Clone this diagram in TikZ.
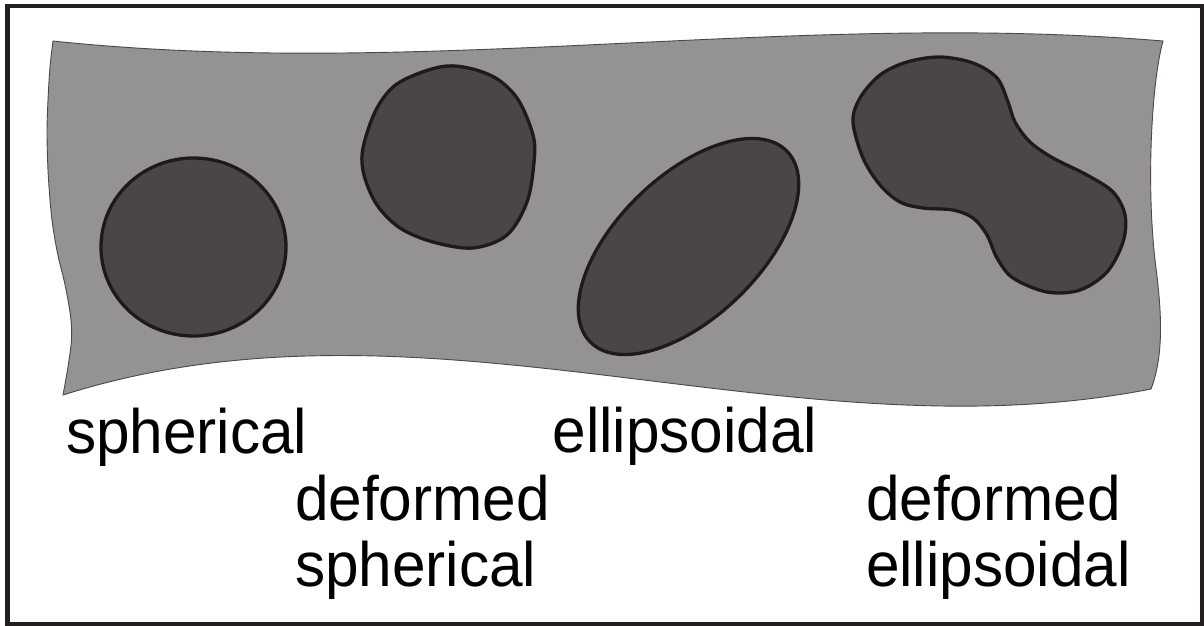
\documentclass[tikz,border=0pt]{standalone}
\usepackage{graphicx}
\usepackage{fontspec}
\setmainfont{Liberation Sans}
\definecolor{bandgrey}{RGB}{148,147,146}
\definecolor{blobgrey}{RGB}{74,70,69}
\definecolor{edgeblack}{RGB}{30,26,25}
\definecolor{framecol}{RGB}{35,31,32}
\newcommand{\tallt}[1]{\scalebox{1}[1.04]{#1}}
\tikzset{
  band/.style={fill=bandgrey, draw=edgeblack!80, line width=0.9pt},
  blob/.style={fill=blobgrey, draw=edgeblack, line width=3.3pt},
  lbl/.style={anchor=base west, inner sep=0pt, outer sep=0pt, font=\fontsize{60.3}{66}\selectfont, text=black},
}
\begin{document}
\begin{tikzpicture}[x=1pt, y=-1pt]
\useasboundingbox (0,0) rectangle (1204,625);
\fill[white] (0,0) rectangle (1204,625);
% frame
\draw[framecol, line width=4.5pt] (7.5,6) rectangle (1202,624);
% grey band
\draw[band]
  (53,41) .. controls (423,80) and (793,10) .. (1163,41)
  .. controls (1152,80) and (1146,180) .. (1155,260)
  .. controls (1160,300) and (1166,350) .. (1151,389)
  .. controls (788,460) and (426,280) .. (63,395)
  -- plot[smooth, tension=0.5] coordinates {(63,395) (68,367) (71.5,340) (71,320) (68,300) (64,280) (59,260) (55,240) (52,220) (50,200) (48,170) (47,133) (48,100) (50,67) (53,41)}
  -- cycle;
% spherical
\draw[blob] (193.5,247) ellipse [x radius=92.5pt, y radius=89pt];
% deformed spherical
\draw[blob] plot[smooth cycle, tension=0.55] coordinates {(447,66) (490,75) (517,98) (533,135) (534,162) (527,202) (507,235) (473,248) (433,242) (400,228) (377,205) (364,175) (363,148) (377,108) (400,82)};
% ellipsoidal
\draw[blob, rotate around={44:(688.5,246.5)}] (688.5,246.5) ellipse [x radius=137pt, y radius=71pt];
% deformed ellipsoidal
\draw[blob] plot[smooth cycle, tension=0.55] coordinates {(853,122) (860,98) (880,75) (907,62) (940,57) (973,63) (997,78) (1008,102) (1015,122) (1030,142) (1053,158) (1087,175) (1113,192) (1125,215) (1123,242) (1107,272) (1080,290) (1047,292) (1013,278) (997,258) (987,235) (973,218) (953,210) (923,208) (900,202) (880,185) (863,158)};
% labels
\node[lbl] (sph) at (66,453) {\tallt{spherical}};
\node[lbl] (ell) at (552.5,452) {\tallt{ellipsoidal}};
\node[lbl] (dsphA) at (295,520) {\tallt{deformed}};
\node[lbl] (dsphB) at (295,586) {\tallt{spherical}};
\node[lbl] (dellA) at (866,520) {\tallt{deformed}};
\node[lbl] (dellB) at (866,586) {\tallt{ellipsoidal}};
\end{tikzpicture}
\end{document}
